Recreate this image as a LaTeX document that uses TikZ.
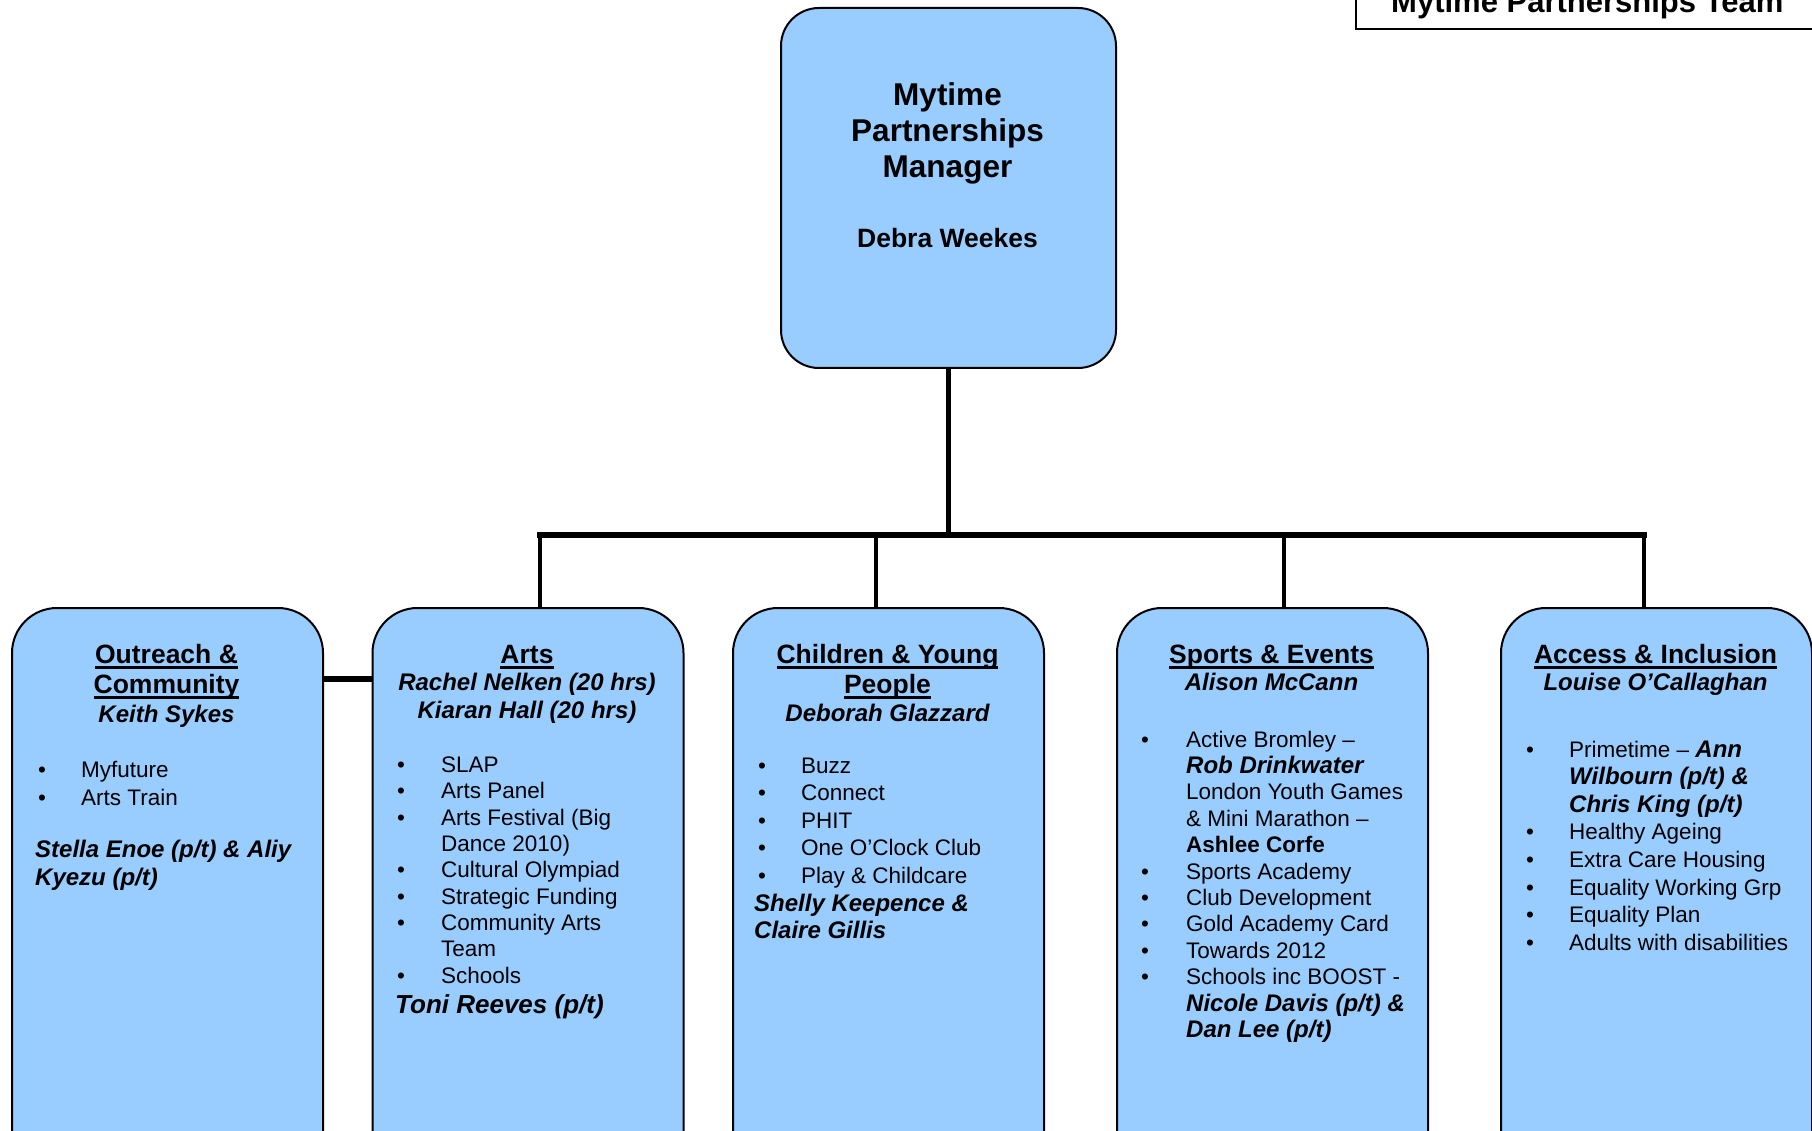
\documentclass[tikz,border=0pt]{standalone}
\usepackage{fontspec}
\setmainfont{Liberation Sans}
\definecolor{boxblue}{HTML}{99CCFF}
\newsavebox\myulbox
\newcommand\myul[1]{\sbox\myulbox{#1}\rlap{\rule[-5.5pt]{\wd\myulbox}{2.3pt}}\usebox\myulbox}
\newcommand\bul[3]{\node[itm] (#1) at (#2,#3) {\textbullet};}
\newcommand\bi{\fontsize{24}{28}\selectfont\bfseries\itshape}
\tikzset{
  mbox/.style={draw=black, line width=2pt, fill=boxblue, rectangle, inner sep=0pt},
  busline/.style={line width=6pt, line cap=rect},
  vline/.style={line width=5pt},
  dropline/.style={line width=4.5pt},
  hdA/.style={anchor=base, inner sep=0pt, font=\fontsize{31.5}{36}\selectfont\bfseries},
  hdB/.style={anchor=base, inner sep=0pt, font=\fontsize{26.5}{30}\selectfont\bfseries},
  hd/.style={anchor=base, inner sep=0pt, font=\fontsize{26.5}{30}\selectfont\bfseries},
  nm/.style={anchor=base, inner sep=0pt, font=\bi},
  nmL/.style={anchor=base west, inner sep=0pt, font=\bi},
  itm/.style={anchor=base west, inner sep=0pt, font=\fontsize{22.5}{27}\selectfont},
}
\begin{document}
\begin{tikzpicture}[x=1pt,y=-1pt]
\useasboundingbox (0,0) rectangle (1812,1131);
\clip (0,0) rectangle (1812,1131);
\fill[white] (0,0) rectangle (1812,1131);

% title box
\node[draw=black, line width=1.6pt, rectangle, inner sep=0pt, minimum width=480pt, minimum height=60pt, anchor=south west] (tbox) at (1355,30) {};
\node[anchor=base west, inner sep=0pt, font=\fontsize{31}{36}\selectfont\bfseries] (ttl) at (1391,13) {Mytime Partnerships Team};

% manager box
\node[mbox, rounded corners=38pt, minimum width=335pt, minimum height=360pt, anchor=north west] (mgr) at (780,7) {};
\node[hdA] (m1) at (947.5,106) {Mytime};
\node[hdA] (m2) at (947.5,142) {Partnerships};
\node[hdA] (m3) at (947.5,178) {Manager};
\node[hdB] (m4) at (947.5,248) {Debra Weekes};

% team boxes
\node[mbox, rounded corners=45pt, minimum width=311pt, minimum height=600pt, anchor=north west] (b1) at (11,607) {};
\node[mbox, rounded corners=45pt, minimum width=311pt, minimum height=600pt, anchor=north west] (b2) at (371.5,607) {};
\node[mbox, rounded corners=45pt, minimum width=311pt, minimum height=600pt, anchor=north west] (b3) at (732,607) {};
\node[mbox, rounded corners=45pt, minimum width=311pt, minimum height=600pt, anchor=north west] (b4) at (1116,607) {};
\node[mbox, rounded corners=45pt, minimum width=311pt, minimum height=600pt, anchor=north west] (b5) at (1500,607) {};

% connectors
\coordinate (d2) at (540,535);
\coordinate (d3) at (876,535);
\coordinate (d4) at (1284,535);
\coordinate (d5) at (1644,535);
\coordinate (cb) at (0,679);
\draw[vline] (mgr.south) -- (mgr.south |- d2);
\draw[busline] (d2) -- (d5);
\draw[dropline] (d2) -- (d2 |- b2.north);
\draw[dropline] (d3) -- (d3 |- b3.north);
\draw[dropline] (d4) -- (d4 |- b4.north);
\draw[dropline] (d5) -- (d5 |- b5.north);
\draw[line width=6pt] (b1.east |- cb) -- (b2.west |- cb);

% box 1
\node[hd] (o1) at (166.5,663) {\myul{Outreach \&}};
\node[hd] (o2) at (166.5,693) {\myul{Community}};
\node[nm] (o3) at (166.5,722) {Keith Sykes};
\bul{o4b}{38}{777} \node[itm] (o4) at (81,777) {Myfuture};
\bul{o5b}{38}{805} \node[itm] (o5) at (81,805) {Arts Train};
\node[nmL] (o6) at (35,857) {Stella Enoe (p/t) \& Aliy};
\node[nmL] (o7) at (35,885) {Kyezu (p/t)};

% box 2
\node[hd] (a1) at (527,663) {\myul{Arts}};
\node[nm] (a2) at (527,690) {Rachel Nelken (20 hrs)};
\node[nm] (a3) at (527,718) {Kiaran Hall (20 hrs)};
\bul{a4b}{397}{772} \node[itm] (a4) at (441,772) {SLAP};
\bul{a5b}{397}{798.5} \node[itm] (a5) at (441,798.5) {Arts Panel};
\bul{a6b}{397}{825} \node[itm] (a6) at (441,825) {Arts Festival (Big};
\node[itm] (a7) at (441,851) {Dance 2010)};
\bul{a8b}{397}{877.5} \node[itm] (a8) at (441,877.5) {Cultural Olympiad};
\bul{a9b}{397}{904} \node[itm] (a9) at (441,904) {Strategic Funding};
\bul{a10b}{397}{930} \node[itm] (a10) at (441,930) {Community Arts};
\node[itm] (a11) at (441,956.5) {Team};
\bul{a12b}{397}{983} \node[itm] (a12) at (441,983) {Schools};
\node[anchor=base west, inner sep=0pt, font=\fontsize{26}{30}\selectfont\bfseries\itshape] (a13) at (395,1013) {Toni Reeves (p/t)};

% box 3
\node[hd] (c1) at (887.5,663) {\myul{Children \& Young}};
\node[hd] (c2) at (887.5,693) {\myul{People}};
\node[nm] (c3) at (887.5,721) {Deborah Glazzard};
\bul{c4b}{758}{773} \node[itm] (c4) at (801,773) {Buzz};
\bul{c5b}{758}{800.6} \node[itm] (c5) at (801,800.6) {Connect};
\bul{c6b}{758}{828.2} \node[itm] (c6) at (801,828.2) {PHIT};
\bul{c7b}{758}{855.8} \node[itm] (c7) at (801,855.8) {One O’Clock Club};
\bul{c8b}{758}{883.4} \node[itm] (c8) at (801,883.4) {Play \& Childcare};
\node[nmL] (c9) at (754,911) {Shelly Keepence \&};
\node[nmL] (c10) at (754,938.6) {Claire Gillis};

% box 4
\node[hd] (s1) at (1271.5,663) {\myul{Sports \& Events}};
\node[nm] (s2) at (1271.5,690) {Alison McCann};
\bul{s3b}{1141}{747} \node[itm] (s3) at (1186,747) {Active Bromley –};
\node[nmL] (s4) at (1186,773.4) {Rob Drinkwater};
\node[itm] (s5) at (1186,799.8) {London Youth Games};
\node[itm] (s6) at (1186,826.2) {\& Mini Marathon –};
\node[itm] (s7) at (1186,852.6) {\bfseries Ashlee Corfe};
\bul{s8b}{1141}{879} \node[itm] (s8) at (1186,879) {Sports Academy};
\bul{s9b}{1141}{905.4} \node[itm] (s9) at (1186,905.4) {Club Development};
\bul{s10b}{1141}{931.8} \node[itm] (s10) at (1186,931.8) {Gold Academy Card};
\bul{s11b}{1141}{958.2} \node[itm] (s11) at (1186,958.2) {Towards 2012};
\bul{s12b}{1141}{984.6} \node[itm] (s12) at (1186,984.6) {Schools inc BOOST -};
\node[nmL] (s13) at (1186,1011) {Nicole Davis (p/t) \&};
\node[nmL] (s14) at (1186,1037.4) {Dan Lee (p/t)};

% box 5
\node[hd] (e1) at (1655.5,663) {\myul{Access \& Inclusion}};
\node[nm] (e2) at (1655.5,690) {Louise O’Callaghan};
\bul{e3b}{1526}{757} \node[itm] (e3) at (1569,757) {Primetime – {\bi Ann}};
\node[nmL] (e4) at (1569,784.6) {Wilbourn (p/t) \&};
\node[nmL] (e5) at (1569,812.2) {Chris King (p/t)};
\bul{e6b}{1526}{839.8} \node[itm] (e6) at (1569,839.8) {Healthy Ageing};
\bul{e7b}{1526}{867.4} \node[itm] (e7) at (1569,867.4) {Extra Care Housing};
\bul{e8b}{1526}{895} \node[itm] (e8) at (1569,895) {Equality Working Grp};
\bul{e9b}{1526}{922.6} \node[itm] (e9) at (1569,922.6) {Equality Plan};
\bul{e10b}{1526}{950.2} \node[itm] (e10) at (1569,950.2) {Adults with disabilities};
\end{tikzpicture}
\end{document}
